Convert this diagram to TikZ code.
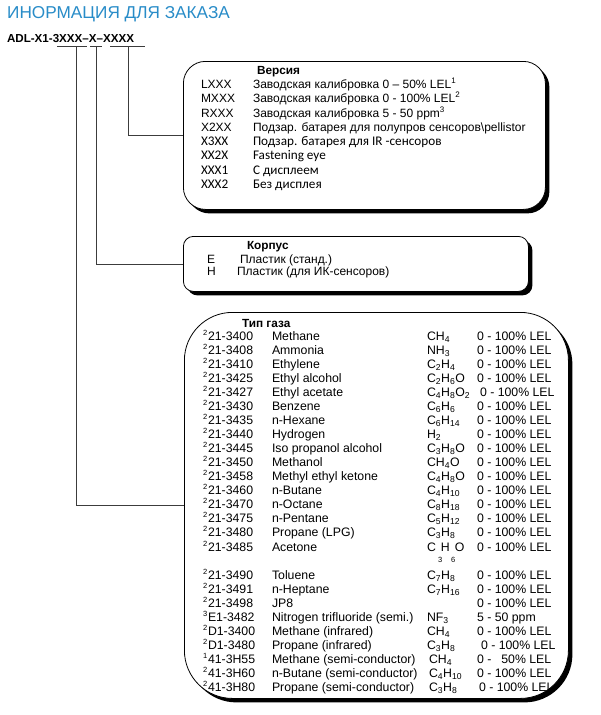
\documentclass[tikz,border=0pt]{standalone}
\usepackage{fontspec}
\setmainfont{Liberation Sans}
\newfontfamily\calfont{Carlito}
\usetikzlibrary{shadows}
\definecolor{titleblue}{RGB}{40,140,200}
\definecolor{linegray}{RGB}{60,60,60}
\newcommand\chs[1]{\textsubscript{#1}}
\newcommand\sups[1]{\textsuperscript{#1}}
\begin{document}
\begin{tikzpicture}[x=1pt,y=-1pt,
  txt/.style={anchor=base west, inner sep=0pt, outer sep=0pt, font=\fontsize{12}{13}\selectfont},
  gtxt/.style={anchor=base west, inner sep=0pt, outer sep=0pt, font=\fontsize{12.3}{14}\selectfont},
  ctxt/.style={anchor=base west, inner sep=0pt, outer sep=0pt, font=\calfont\fontsize{13.2}{14}\selectfont},
  stxt/.style={anchor=base west, inner sep=0pt, outer sep=0pt, font=\fontsize{7.5}{8}\selectfont},
  hd/.style={anchor=base west, inner sep=0pt, outer sep=0pt, font=\bfseries\fontsize{11.8}{13}\selectfont},
  box/.style={draw=black, line width=0.8pt, fill=white, anchor=north west, inner sep=0pt,
    drop shadow={shadow xshift=4pt, shadow yshift=-4pt, fill=black, opacity=1}},
  conn/.style={draw=linegray, line width=0.8pt},
  codepart/.style={anchor=base west, inner sep=0pt, outer sep=0pt, font=\bfseries\fontsize{11.6}{14}\selectfont}
]
\useasboundingbox[fill=white] (0,0) rectangle (600,715);

% title
\node (title) [anchor=base west, inner sep=0pt, text=titleblue, font=\fontsize{17.2}{19}\selectfont] at (7,18) {ИНОРМАЦИЯ ДЛЯ ЗАКАЗА};

% code line
\node (cA) [codepart] at (7,42) {ADL-X1-};
\node (cB) [codepart] at (cA.base east) {3XXX};
\node (cC) [codepart] at (cB.base east) {–};
\node (cD) [codepart] at (cC.base east) {X};
\node (cE) [codepart] at (cD.base east) {–};
\node (cF) [codepart] at (cE.base east) {XXXX};

\coordinate (u1a) at (57,46); \coordinate (u1b) at (87,46);
\coordinate (u2a) at (90,46); \coordinate (u2b) at (102,46);
\coordinate (u3a) at (110,46); \coordinate (u3b) at (145,46);
\coordinate (d1) at (76,46); \coordinate (d2) at (96,46); \coordinate (d3) at (128,46);
\draw[conn] (u1a) -- (u1b);
\draw[conn] (u2a) -- (u2b);
\draw[conn] (u3a) -- (u3b);

% boxes
\node (top) [box, rounded corners=22pt, minimum width=362pt, minimum height=148pt] at (183,61) {};
\node (mid) [box, rounded corners=10pt, minimum width=345pt, minimum height=55pt] at (183,236) {};
\node (bot) [box, rounded corners=48pt, minimum width=384pt, minimum height=386pt] at (184,312) {};

% connectors
\draw[conn] (d3) |- (top.west);
\draw[conn] (d2) |- (mid.west);
\draw[conn] (d1) |- (bot.west);

% top box text
\node (vh) [hd] at (257,74) {Версия};
\node (t1c) [txt] at (201,88) {LXXX};
\node (t1d) [txt] at (253,88) {Заводская калибровка 0 – 50\% LEL\sups{1}};
\node (t2c) [txt] at (201,102) {MXXX};
\node (t2d) [txt] at (253,102) {Заводская калибровка 0 - 100\% LEL\sups{2}};
\node (t3c) [txt] at (201,117) {RXXX};
\node (t3d) [txt] at (253,117) {Заводская калибровка 5 - 50 ppm\sups{3}};
\node (t4c) [txt] at (201,131) {X2XX};
\node (t4d) [txt] at (253,131) {Подзар. батарея для полупров сенсоров\textbackslash pellistor};
\node (t5c) [ctxt] at (201,145) {X3XX};
\node (t5d) [ctxt] at (253,145) {Подзар. батарея для IR -сенсоров};
\node (t6c) [ctxt] at (201,159) {XX2X};
\node (t6d) [ctxt] at (253,159) {Fastening eye};
\node (t7c) [ctxt] at (201,174) {XXX1};
\node (t7d) [ctxt] at (253,174) {С дисплеем};
\node (t8c) [ctxt] at (201,188) {XXX2};
\node (t8d) [ctxt] at (253,188) {Без дисплея};

% middle box text
\node (kh) [hd] at (247,249) {Корпус};
\node (m1c) [txt] at (207,263) {E};
\node (m1d) [txt] at (240,263) {Пластик (станд.)};
\node (m2c) [txt] at (207,275) {H};
\node (m2d) [txt] at (237,275) {Пластик (для ИК-сенсоров)};

% bottom box text
\node (gh) [hd] at (242,327) {Тип газа};
\foreach \yy/\s/\c/\n/\f/\r [count=\i] in {
 336/2/21-3400/Methane/CH\chs{4}/0 - 100\% LEL,
 350/2/21-3408/Ammonia/NH\chs{3}/0 - 100\% LEL,
 364/2/21-3410/Ethylene/C\chs{2}H\chs{4}/0 - 100\% LEL,
 378/2/21-3425/Ethyl alcohol/C\chs{2}H\chs{6}O/0 - 100\% LEL,
 392/2/21-3427/Ethyl acetate/C\chs{4}H\chs{8}O\chs{2}/\hspace{3pt}0 - 100\% LEL,
 406/2/21-3430/Benzene/C\chs{6}H\chs{6}/0 - 100\% LEL,
 420/2/21-3435/n-Hexane/C\chs{6}H\chs{14}/0 - 100\% LEL,
 434/2/21-3440/Hydrogen/H\chs{2}/0 - 100\% LEL,
 448/2/21-3445/Iso propanol alcohol/C\chs{3}H\chs{8}O/0 - 100\% LEL,
 462/2/21-3450/Methanol/CH\chs{4}O/0 - 100\% LEL,
 476/2/21-3458/Methyl ethyl ketone/C\chs{4}H\chs{8}O/0 - 100\% LEL,
 490/2/21-3460/n-Butane/C\chs{4}H\chs{10}/0 - 100\% LEL,
 504/2/21-3470/n-Octane/C\chs{8}H\chs{18}/0 - 100\% LEL,
 518/2/21-3475/n-Pentane/C\chs{5}H\chs{12}/0 - 100\% LEL,
 532/2/21-3480/Propane (LPG)/C\chs{3}H\chs{8}/0 - 100\% LEL,
 547/2/21-3485/Acetone/C\hspace{5pt}H\hspace{5pt}O/0 - 100\% LEL,
 575/2/21-3490/Toluene/C\chs{7}H\chs{8}/0 - 100\% LEL,
 589/2/21-3491/n-Heptane/C\chs{7}H\chs{16}/0 - 100\% LEL,
 603/2/21-3498/JP8//0 - 100\% LEL,
 617/3/E1-3482/Nitrogen trifluoride (semi.)/NF\chs{3}/5 - 50 ppm,
 631/2/D1-3400/Methane (infrared)/CH\chs{4}/0 - 100\% LEL,
 645/2/D1-3480/Propane (infrared)/C\chs{3}H\chs{8}/\hspace{4pt}0 - 100\% LEL,
 659/1/41-3H55/Methane (semi-conductor)/\hspace{2pt}CH\chs{4}/0 -\hspace{10pt}50\% LEL,
 673/2/41-3H60/n-Butane (semi-conductor)/\hspace{2pt}C\chs{4}H\chs{10}/0 - 100\% LEL,
 687/2/41-3H80/Propane (semi-conductor)/\hspace{2pt}C\chs{3}H\chs{8}/\hspace{2pt}0 - 100\% LEL}
{
  \node (s\i) [stxt] at (203,\yy-1) {\s};
  \node (c\i) [gtxt] at (208,\yy+4.5) {\c};
  \node (n\i) [gtxt] at (272,\yy+4.5) {\n};
  \node (f\i) [gtxt] at (427,\yy+4.5) {\f};
  \node (r\i) [gtxt] at (477,\yy+4.5) {\r};
}
\node (acsub) [stxt] at (438,562) {3\hspace{9pt}6};
\end{tikzpicture}
\end{document}
